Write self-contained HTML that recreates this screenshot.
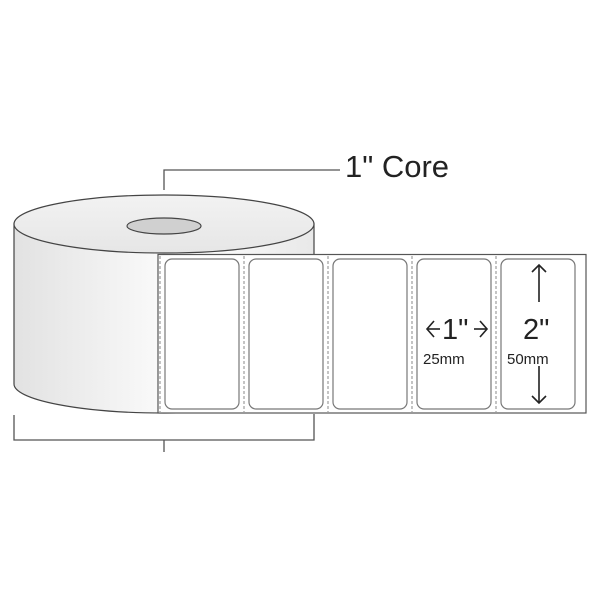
<!DOCTYPE html>
<html><head><style>body{margin:0;background:#fff}svg{display:block}</style></head><body>
<svg width="600" height="600" viewBox="0 0 600 600" xmlns="http://www.w3.org/2000/svg" font-family="Liberation Sans, sans-serif">
<defs>
<linearGradient id="g" x1="0" x2="1">
<stop offset="0" stop-color="#e2e2e2"/><stop offset="0.6" stop-color="#fff"/><stop offset="1" stop-color="#e8e8e8"/>
</linearGradient>
<linearGradient id="t" x1="0" y1="0" x2="0" y2="1">
<stop offset="0" stop-color="#f2f2f2"/><stop offset="1" stop-color="#e6e6e6"/>
</linearGradient>
</defs>
<path d="M14 224 L14 384 A150 29 0 0 0 314 384 L314 224 Z" fill="url(#g)" stroke="#444" stroke-width="1.2"/>
<ellipse cx="164" cy="224" rx="150" ry="29" fill="url(#t)" stroke="#444" stroke-width="1.2"/>
<ellipse cx="164" cy="226" rx="37" ry="8" fill="#d0d0d0" stroke="#444" stroke-width="1.2"/>
<rect x="158" y="254.5" width="428" height="158.5" fill="#fff" stroke="#555" stroke-width="1.2"/>
<g stroke="#888" stroke-dasharray="3,2" stroke-width="1">
<line x1="160" y1="256" x2="160" y2="412"/><line x1="244" y1="256" x2="244" y2="412"/><line x1="328" y1="256" x2="328" y2="412"/><line x1="412" y1="256" x2="412" y2="412"/><line x1="496" y1="256" x2="496" y2="412"/>
</g>
<g fill="none" stroke="#777" stroke-width="1.2">
<rect x="165" y="259" width="74" height="150" rx="7"/><rect x="249" y="259" width="74" height="150" rx="7"/><rect x="333" y="259" width="74" height="150" rx="7"/><rect x="417" y="259" width="74" height="150" rx="7"/><rect x="501" y="259" width="74" height="150" rx="7"/>
</g>
<g fill="none" stroke="#555" stroke-width="1.3">
<polyline points="164,190 164,170 340,170"/>
<polyline points="14,415 14,440 314,440 314,414"/>
<line x1="164" y1="440" x2="164" y2="452"/>
</g>
<text x="345" y="177" font-size="31" fill="#222">1" Core</text>
<g fill="none" stroke="#222" stroke-width="1.6">
<polyline points="434,321 427,329 434,337"/><line x1="427" y1="329" x2="440" y2="329"/>
<polyline points="480,321 487,329 480,337"/><line x1="474" y1="329" x2="487" y2="329"/>
<line x1="539" y1="265" x2="539" y2="302"/><polyline points="532,272 539,265 546,272"/>
<line x1="539" y1="366" x2="539" y2="403"/><polyline points="532,396 539,403 546,396"/>
</g>
<text x="442" y="339" font-size="29" fill="#222">1"</text>
<text x="423" y="364" font-size="15" fill="#222">25mm</text>
<text x="523" y="339" font-size="29" fill="#222">2"</text>
<text x="507" y="364" font-size="15" fill="#222">50mm</text>
</svg>
</body></html>
